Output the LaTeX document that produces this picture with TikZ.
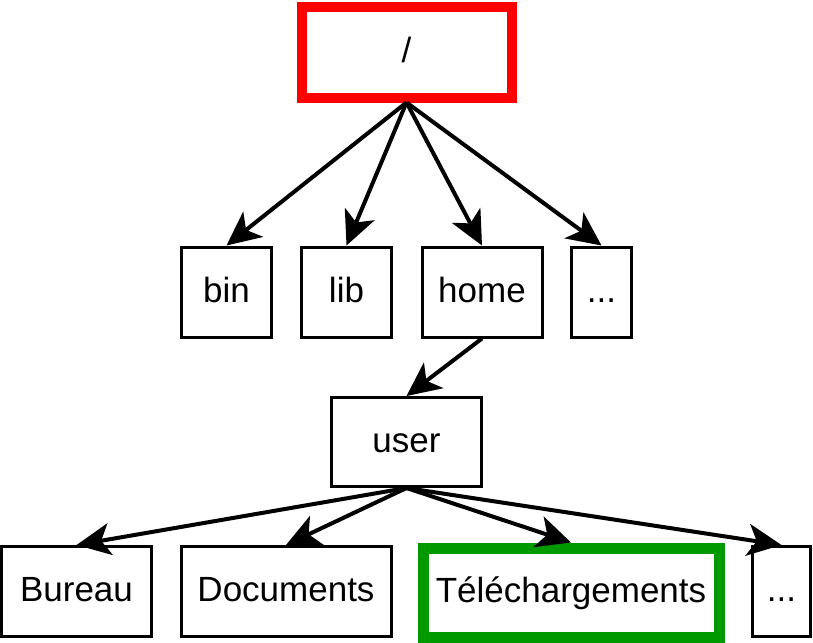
\documentclass[tikz,border=0pt]{standalone}
\usepackage{fontspec}
\setmainfont{Liberation Sans}
\usetikzlibrary{arrows.meta}
\definecolor{rootred}{RGB}{255,0,0}
\definecolor{dlgreen}{RGB}{0,153,0}

\begin{document}
\begin{tikzpicture}[x=1pt,y=-1pt]
\tikzset{
  dir/.style={draw=black, line width=3pt, fill=white, inner sep=0pt,
    minimum height=90pt, text height=26pt, text depth=6pt,
    font=\fontsize{35}{42}\selectfont},
  link/.style={line width=4pt, -{Stealth[length=34pt,width=32pt,inset=9pt]}}}
\useasboundingbox (0,0) rectangle (813,642);

\node[dir, draw=rootred, line width=10pt, minimum width=210pt] (root) at (406.5,52.5) {/};

\node[dir, minimum width=90pt] (bin) at (226.5,292) {bin};
\node[dir, minimum width=90pt] (lib) at (346.5,292) {lib};
\node[dir, minimum width=120pt] (home) at (482,292) {home};
\node[dir, minimum width=60pt] (more1) at (601.5,292) {...};

\node[dir, minimum width=150pt, minimum height=89pt] (user) at (406.5,442) {user};

\node[dir, minimum width=150pt] (bureau) at (76.5,591.5) {Bureau};
\node[dir, minimum width=210pt] (docs) at (286,591.5) {Documents};
\node[dir, draw=dlgreen, line width=11pt, minimum width=296pt, minimum height=89pt] (dl) at (571,592.5) {Téléchargements};
\node[dir, minimum width=58pt] (more2) at (781.5,591.5) {...};

%root -> first level
\draw[link] (root.south) -- (bin.north);
\draw[link] (root.south) -- (lib.north);
\draw[link] (root.south) -- (home.north);
\draw[link] (root.south) -- (more1.north);

\draw[link] (home.south) -- (user.north);

%user -> second level
\draw[link] (user.south) -- (bureau.north);
\draw[link] (user.south) -- (docs.north);
\draw[link] (user.south) -- (dl.north);
\draw[link] (user.south) -- (more2.north);

\end{tikzpicture}
\end{document}
